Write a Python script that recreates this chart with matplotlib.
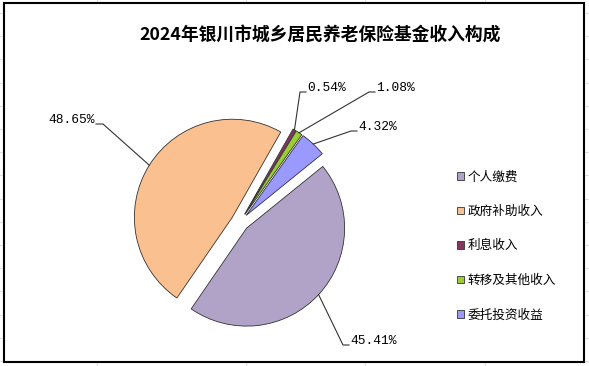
import matplotlib
matplotlib.use('Agg')
import matplotlib.pyplot as plt
from matplotlib.patches import Rectangle
import numpy as np

plt.rcParams['font.family'] = ['Noto Sans CJK SC', 'DejaVu Sans']

title = '2024年银川市城乡居民养老保险基金收入构成'
categories = ['个人缴费', '政府补助收入', '利息收入', '转移及其他收入', '委托投资收益']
shares = [45.41, 48.65, 0.54, 1.08, 4.32]
share_labels = ['45.41%', '48.65%', '0.54%', '1.08%', '4.32%']
colors = ['#B1A2C7', '#FAC090', '#863562', '#9ACD32', '#9999FF']

W, H = 589, 366

# label text anchors in image pixels (x, y, side the leader comes from)
label_pos = [(350, 341, 'left'), (95, 120, 'right'), (307, 88, 'left'),
             (376, 88, 'left'), (358, 127, 'left')]


def iy(y):
    # image row -> data y (y up)
    return H - y


fig = plt.figure(figsize=(W / 100, H / 100), dpi=100)
ax = fig.add_axes([0, 0, 1, 1])

# spreadsheet grid behind the chart
for y in np.arange(13, H, 23.2):
    ax.plot([0, W], [iy(y), iy(y)], color='#E0E0E0', lw=0.8, zorder=0.1)
for x in [97, 246, 365, 485]:
    ax.plot([x, x], [0, H], color='#E0E0E0', lw=0.8, zorder=0.1)
ax.add_patch(Rectangle((4, iy(362)), 580, 359, facecolor='white',
                       edgecolor='black', lw=1.5, zorder=0.5))

wedges, _ = ax.pie(shares, colors=colors, startangle=39, counterclock=False,
                   radius=98, center=(240, iy(222)), explode=[9] * len(shares),
                   wedgeprops=dict(edgecolor='#333333', linewidth=0.6))

for w, txt, (tx, ty, side) in zip(wedges, share_labels, label_pos):
    mid = np.deg2rad((w.theta1 + w.theta2) / 2)
    px = w.center[0] + w.r * np.cos(mid)
    py = w.center[1] + w.r * np.sin(mid)
    base = iy(ty + 4)
    if side == 'left':
        ex = tx - 7
        ax.plot([px, ex, tx - 1], [py, base, base], color='#333333', lw=0.8)
        ax.text(tx, iy(ty), txt, ha='left', va='center',
                family=['Liberation Mono'], fontsize=9.3)
    else:
        ex = tx + 8
        ax.plot([px, ex, tx + 1], [py, base, base], color='#333333', lw=0.8)
        ax.text(tx, iy(ty), txt, ha='right', va='center',
                family=['Liberation Mono'], fontsize=9.3)

ax.text(320, iy(35), title, ha='center', va='center', fontsize=12.8,
        fontweight='bold')

ax.legend(wedges, categories, loc='center left',
          bbox_to_anchor=(457 / W, iy(246) / H), frameon=False,
          fontsize=9.1, labelspacing=1.7, handlelength=0.55,
          handleheight=0.55, handletextpad=0.3, borderpad=0,
          borderaxespad=0)

ax.set_xlim(0, W)
ax.set_ylim(0, H)
ax.set_aspect('equal')
ax.set_axis_off()

fig.savefig('out.png', dpi=100)
